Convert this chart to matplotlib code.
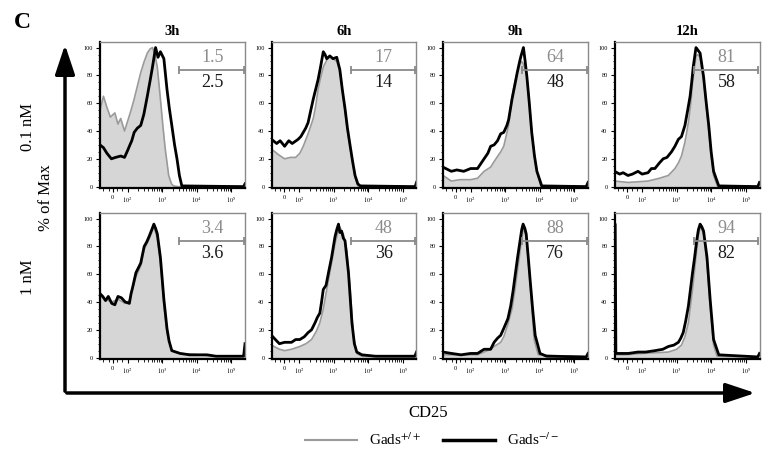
import numpy as np
import matplotlib
matplotlib.use('Agg')
import matplotlib.pyplot as plt
from matplotlib.lines import Line2D
from matplotlib.patches import FancyArrowPatch

plt.rcParams['font.family'] = ['Liberation Serif', 'DejaVu Serif']
plt.rcParams['mathtext.fontset'] = 'stix'

# ---- data (x in log10 display units of CD25, y = % of Max) ----
times = ['3h', '6h', '9h', '12h']
doses = ['0.1 nM', '1 nM']
pct_wt = ['1.5', '17', '64', '81', '3.4', '48', '88', '94']
pct_ko = ['2.5', '14', '48', '58', '3.6', '36', '76', '82']
tick_pos = [1.57, 2, 3, 4, 5]
tick_labels = ['0', '$10^2$', '$10^3$', '$10^4$', '$10^5$']

# 0.1 nM, 3h
x_a3_wt = [1.2, 1.30, 1.40, 1.50, 1.63, 1.72, 1.80, 1.91, 2.00, 2.10, 2.19, 2.30, 2.38, 2.48, 2.57, 2.65, 2.72, 2.79, 2.86, 2.95, 3.02, 3.09, 3.19, 3.27, 3.33, 3.45, 5.30, 5.36, 5.4]
y_a3_wt = [55, 65, 57, 50, 53, 45, 49, 40, 47, 55, 63, 74, 82, 90, 96, 99, 100, 95, 86, 63, 44, 27, 8, 2, 0.5, 0, 0, 0, 2]
x_a3_ko = [1.2, 1.30, 1.40, 1.53, 1.65, 1.80, 1.91, 2.00, 2.05, 2.12, 2.19, 2.28, 2.38, 2.47, 2.57, 2.65, 2.72, 2.81, 2.88, 2.95, 3.05, 3.14, 3.21, 3.28, 3.36, 3.43, 3.50, 3.57, 5.30, 5.36, 5.4]
y_a3_ko = [30, 28, 24, 20, 21, 22, 21, 26, 29, 33, 39, 42, 44, 52, 65, 76, 86, 100, 93, 97, 92, 70, 56, 44, 30, 20, 8, 0.5, 0, 0, 2]
# 0.1 nM, 6h
x_a6_wt = [1.2, 1.40, 1.58, 1.75, 1.90, 2.02, 2.12, 2.26, 2.41, 2.48, 2.55, 2.62, 2.70, 2.80, 2.89, 2.98, 3.09, 3.18, 3.25, 3.33, 3.40, 3.48, 3.55, 3.62, 3.70, 5.36, 5.4]
y_a6_wt = [27, 23, 20, 21, 21, 24, 29, 38, 49, 58, 70, 78, 86, 91, 94, 92, 90, 84, 70, 54, 40, 28, 17, 7, 0.5, 0, 2]
x_a6_ko = [1.2, 1.35, 1.45, 1.58, 1.70, 1.80, 1.97, 2.05, 2.12, 2.19, 2.26, 2.33, 2.41, 2.48, 2.55, 2.62, 2.70, 2.75, 2.80, 2.89, 2.98, 3.09, 3.18, 3.25, 3.33, 3.40, 3.48, 3.55, 3.62, 3.70, 3.77, 5.30, 5.36, 5.4]
y_a6_ko = [34, 31, 33, 29, 33, 31, 34, 36, 39, 42, 46, 54, 63, 70, 77, 86, 97, 95, 92, 94, 92, 93, 84, 70, 56, 42, 29, 18, 8, 2, 0.5, 0, 0, 3]
# 0.1 nM, 9h
x_a9_wt = [1.2, 1.44, 1.70, 2.00, 2.20, 2.39, 2.58, 2.68, 2.87, 2.96, 3.10, 3.20, 3.28, 3.35, 3.42, 3.48, 3.53, 3.58, 3.63, 3.70, 3.77, 3.85, 3.92, 4.03, 5.35, 5.4]
y_a9_wt = [8, 4, 5, 5, 6, 11, 14, 18, 25, 29, 44, 65, 75, 82, 88, 90, 88, 84, 79, 60, 40, 22, 11, 0.5, 0, 2]
x_a9_ko = [1.2, 1.44, 1.60, 1.80, 2.00, 2.20, 2.39, 2.50, 2.58, 2.68, 2.78, 2.87, 2.96, 3.05, 3.10, 3.20, 3.28, 3.35, 3.42, 3.46, 3.53, 3.58, 3.63, 3.70, 3.77, 3.85, 3.92, 4.06, 5.35, 5.4]
y_a9_ko = [14, 11, 12, 11, 13, 13, 20, 24, 29, 30, 33, 38, 39, 44, 48, 63, 73, 82, 90, 94, 100, 90, 79, 60, 39, 22, 11, 0.5, 0, 3]
# 0.1 nM, 12h
x_a12_wt = [1.2, 1.60, 2.17, 2.50, 2.76, 2.95, 3.05, 3.14, 3.24, 3.34, 3.41, 3.46, 3.52, 3.56, 3.62, 3.68, 3.78, 3.85, 3.93, 4.00, 4.07, 4.18, 5.35, 5.4]
y_a12_wt = [4, 3, 4, 6, 8, 13, 17, 22, 32, 46, 60, 75, 86, 94, 95, 93, 77, 60, 40, 22, 8, 0.5, 0, 2]
x_a12_ko = [1.2, 1.35, 1.45, 1.59, 1.72, 1.88, 2.00, 2.17, 2.27, 2.37, 2.50, 2.61, 2.72, 2.85, 2.95, 3.05, 3.14, 3.24, 3.32, 3.39, 3.44, 3.48, 3.56, 3.62, 3.68, 3.78, 3.85, 3.93, 4.00, 4.07, 4.22, 5.35, 5.4]
y_a12_ko = [11, 9, 10, 8, 9, 11, 9, 10, 13, 13, 17, 20, 21, 25, 29, 34, 36, 44, 55, 65, 76, 86, 100, 98, 96, 79, 62, 44, 25, 11, 0.5, 0, 3]
# 1 nM, 3h
x_b3_wt = [1.2, 1.36, 1.54, 1.72, 1.93, 2.05, 2.15, 2.24, 2.38, 2.48, 2.62, 2.70, 2.76, 2.81, 2.86, 2.95, 3.05, 3.14, 3.28, 3.52, 4.09, 4.56, 5.36, 5.4]
y_b3_wt = [44, 42, 40, 42, 39, 41, 50, 58, 66, 78, 85, 90, 94, 90, 86, 68, 38, 18, 5, 3, 2, 1, 1, 8]
x_b3_ko = [1.2, 1.28, 1.36, 1.44, 1.54, 1.63, 1.72, 1.82, 1.93, 2.05, 2.10, 2.15, 2.24, 2.30, 2.38, 2.48, 2.55, 2.62, 2.70, 2.76, 2.81, 2.86, 2.95, 3.05, 3.14, 3.20, 3.28, 3.40, 3.52, 3.80, 4.09, 4.30, 4.56, 5.00, 5.36, 5.4]
y_b3_ko = [46, 44, 41, 44, 39, 38, 44, 43, 40, 39, 46, 51, 61, 64, 68, 80, 83, 87, 92, 96, 93, 89, 72, 42, 21, 12, 5, 4, 3, 2, 2, 2, 1, 1, 1, 10]
# 1 nM, 6h
x_b6_wt = [1.2, 1.43, 1.58, 1.78, 2.02, 2.20, 2.36, 2.50, 2.60, 2.70, 2.80, 2.94, 3.04, 3.09, 3.14, 3.18, 3.23, 3.28, 3.38, 3.48, 3.57, 3.67, 3.82, 5.35, 5.4]
y_b6_wt = [9, 6, 5, 6, 8, 10, 13, 19, 25, 35, 49, 68, 82, 87, 92, 94, 91, 89, 77, 49, 16, 3, 1, 0.5, 3]
x_b6_ko = [1.2, 1.35, 1.43, 1.58, 1.78, 1.90, 2.02, 2.15, 2.26, 2.36, 2.46, 2.53, 2.60, 2.65, 2.70, 2.78, 2.85, 2.94, 3.04, 3.09, 3.14, 3.18, 3.23, 3.28, 3.33, 3.43, 3.53, 3.60, 3.67, 3.82, 4.21, 5.35, 5.4]
y_b6_ko = [16, 12, 10, 11, 11, 13, 13, 15, 18, 20, 25, 29, 32, 40, 49, 52, 61, 72, 87, 92, 96, 90, 91, 86, 84, 61, 25, 10, 4, 2, 1, 1, 4]
# 1 nM, 9h
x_b9_wt = [1.2, 1.72, 2.20, 2.39, 2.58, 2.68, 2.87, 2.96, 3.08, 3.20, 3.28, 3.35, 3.41, 3.46, 3.53, 3.57, 3.61, 3.67, 3.73, 3.84, 3.96, 5.35, 5.4]
y_b9_wt = [2, 2, 2, 4, 6, 8, 11, 15, 24, 35, 48, 61, 72, 82, 94, 90, 87, 70, 51, 13, 2, 0.5, 2]
x_b9_ko = [1.2, 1.45, 1.72, 2.00, 2.20, 2.39, 2.58, 2.68, 2.78, 2.87, 2.96, 3.08, 3.16, 3.23, 3.30, 3.36, 3.42, 3.48, 3.52, 3.57, 3.61, 3.67, 3.73, 3.80, 3.87, 4.01, 4.20, 5.35, 5.4]
y_b9_ko = [4, 3, 2, 3, 3, 6, 6, 11, 14, 16, 21, 28, 37, 48, 61, 72, 82, 92, 96, 93, 89, 72, 54, 34, 16, 3, 1, 0.5, 3]
# 1 nM, 12h
x_b12_wt = [1.2, 1.50, 2.00, 2.76, 3.00, 3.14, 3.24, 3.34, 3.40, 3.46, 3.52, 3.58, 3.63, 3.68, 3.73, 3.78, 3.88, 3.97, 4.07, 4.17, 5.35, 5.4]
y_b12_wt = [2, 2, 3, 4, 6, 9, 15, 25, 37, 49, 63, 77, 88, 94, 92, 89, 68, 37, 9, 1, 0.5, 2]
x_b12_ko = [1.2, 1.22, 1.24, 1.40, 1.60, 1.88, 2.10, 2.37, 2.60, 2.76, 2.92, 3.05, 3.12, 3.19, 3.26, 3.34, 3.40, 3.46, 3.52, 3.58, 3.63, 3.68, 3.73, 3.78, 3.88, 3.97, 4.07, 4.22, 5.35, 5.4]
y_b12_ko = [96, 96, 3, 3, 3, 4, 4, 5, 6, 8, 9, 11, 14, 18, 26, 37, 49, 61, 72, 84, 92, 96, 94, 91, 72, 42, 13, 2, 0.5, 3]

panels = [
    (x_a3_wt, y_a3_wt, x_a3_ko, y_a3_ko), (x_a6_wt, y_a6_wt, x_a6_ko, y_a6_ko),
    (x_a9_wt, y_a9_wt, x_a9_ko, y_a9_ko), (x_a12_wt, y_a12_wt, x_a12_ko, y_a12_ko),
    (x_b3_wt, y_b3_wt, x_b3_ko, y_b3_ko), (x_b6_wt, y_b6_wt, x_b6_ko, y_b6_ko),
    (x_b9_wt, y_b9_wt, x_b9_ko, y_b9_ko), (x_b12_wt, y_b12_wt, x_b12_ko, y_b12_ko),
]

# ---- figure ----
W, H = 762, 450
fig = plt.figure(figsize=(W / 100, H / 100), dpi=100)

lefts = [100, 271.5, 443, 614.5]
tops = [42, 213]
pw, ph = 145, 146

minor_x = [1.3, 1.45, 1.7, 1.85] + [np.log10(k * 10 ** n) for n in (2, 3, 4) for k in range(2, 10)]

for i, (xw, yw, xk, yk) in enumerate(panels):
    r, c = divmod(i, 4)
    ax = fig.add_axes([lefts[c] / W, 1 - (tops[r] + ph) / H, pw / W, ph / H])
    ax.fill_between(xw, yw, 0, color='#d6d6d6', lw=0)
    ax.plot(xw, yw, color='#9a9a9a', lw=1.2)
    ax.plot(xk, yk, color='black', lw=2.0)
    # gate
    ax.plot([3.5, 5.36], [84, 84], color='#8a8a8a', lw=1.3, marker='|', ms=6, mew=1.3)
    ax.text(4.45, 93, pct_wt[i], ha='center', va='center', fontsize=13, color='#8c8c8c')
    ax.text(4.45, 75, pct_ko[i], ha='center', va='center', fontsize=13, color='#1a1a1a')

    ax.set_xlim(1.2, 5.4)
    ax.set_ylim(-1, 104)
    ax.set_xticks(tick_pos)
    ax.set_xticklabels(tick_labels)
    ax.set_xticks(minor_x, minor=True)
    ax.set_yticks([0, 20, 40, 60, 80, 100])
    ax.set_yticks(np.arange(0, 101, 5), minor=True)
    ax.tick_params(which='major', length=3, width=0.8, labelsize=4.5, pad=2, color='black')
    ax.tick_params(which='minor', length=1.8, width=0.6, color='black')
    for s in ('left', 'bottom'):
        ax.spines[s].set_linewidth(1.6)
        ax.spines[s].set_color('black')
    for s in ('top', 'right'):
        ax.spines[s].set_linewidth(1.0)
        ax.spines[s].set_color('#8a8a8a')
    if r == 0:
        ax.set_title(times[c], fontsize=10.5, fontweight='bold', pad=5)

# big arrows
fig.add_artist(FancyArrowPatch((65 / W, 1 - 394 / H), (65 / W, 1 - 42 / H), transform=fig.transFigure,
                               arrowstyle='-|>,head_length=1.8,head_width=0.6', mutation_scale=10,
                               lw=2.5, color='black'))
fig.add_artist(FancyArrowPatch((64 / W, 1 - 393 / H), (758 / W, 1 - 393 / H), transform=fig.transFigure,
                               arrowstyle='-|>,head_length=1.8,head_width=0.6', mutation_scale=10,
                               lw=2.5, color='black'))

fig.text(22 / W, 1 - 23 / H, 'C', fontsize=17, fontweight='bold', ha='center', va='center')
fig.text(28 / W, 1 - 127 / H, doses[0], rotation=90, fontsize=12, ha='center', va='center')
fig.text(28 / W, 1 - 277 / H, doses[1], rotation=90, fontsize=12, ha='center', va='center')
fig.text(46 / W, 1 - 198 / H, '% of Max', rotation=90, fontsize=12, ha='center', va='center')
fig.text(428 / W, 1 - 413 / H, 'CD25', fontsize=12, ha='center', va='center')

handles = [Line2D([], [], color='#9a9a9a', lw=1.5), Line2D([], [], color='black', lw=2.5)]
fig.legend(handles, ['Gads$^{+/+}$', 'Gads$^{-/-}$'], loc='center', bbox_to_anchor=(432 / W, 1 - 440 / H),
           ncol=2, frameon=False, fontsize=11, handlelength=3.4, columnspacing=1.4, handletextpad=0.8)

fig.savefig('out.png', dpi=100)
